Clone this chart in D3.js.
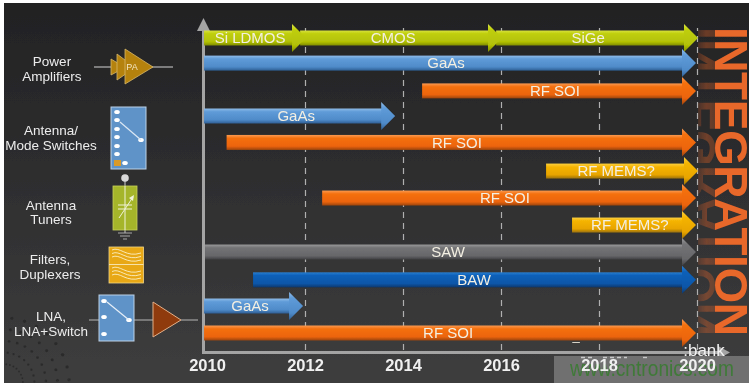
<!DOCTYPE html>
<html><head><meta charset="utf-8">
<script src="https://cdn.jsdelivr.net/npm/d3@7"></script>
<style>html,body{margin:0;padding:0;background:#fff}svg{display:block}text{font-family:"Liberation Sans",Arial,sans-serif}</style>
</head><body><div id="chart"></div>
<script>
// ---- data ----
const tickYears   = [2010, 2012, 2014, 2016, 2018, 2020];
const barLabels   = ["SiGe","CMOS","Si LDMOS","GaAs","RF SOI","GaAs","RF SOI","RF MEMS?","RF SOI","RF MEMS?","SAW","BAW","GaAs","RF SOI"];
const barLanes    = [0,0,0,0.93,1.96,2.89,3.87,4.93,5.93,6.93,7.93,8.96,9.93,10.93];
const barStarts   = [2015.9,2011.9,2009.94,2009.94,2014.39,2009.94,2010.40,2016.92,2012.35,2017.45,2009.96,2010.94,2009.94,2009.94];
const barEnds     = [2020.02,2016.02,2012.02,2019.98,2019.98,2013.84,2019.98,2020.02,2019.98,2019.98,2019.98,2019.98,2011.96,2019.98];
const labelYears  = [2017.78,2013.8,2010.88,2014.88,2017.1,2011.82,2015.1,2018.35,2016.08,2018.63,2014.92,2015.45,2010.88,2014.92];
const barColors   = ["lime","lime","lime","blue","orange","blue","orange","gold","orange","gold","grey","navy","blue","orange"];
const groupLines  = [["Power","Amplifiers"],["Antenna/","Mode Switches"],["Antenna","Tuners"],["Filters,","Duplexers"],["LNA,","LNA+Switch"]];
const sideTitle   = "INTEGRATION";

const W = 754, H = 386;
const x = d3.scaleLinear().domain([2010,2020]).range([207,697]);
const y = d3.scaleLinear().domain([0,10.93]).range([38,333]);
const svg = d3.select("#chart").append("svg").attr("width",W).attr("height",H);
const defs = svg.append("defs");

// gradients
const shades = {
  lime:  ["#d8e23e","#bfce0c","#b3c106","#7f8c02"],
  blue:  ["#8fbce8","#5f9bd8","#4f8bc9","#2f5f94"],
  orange:["#fb9a50","#f4700f","#ec640e","#9a4410"],
  gold:  ["#fbd040","#f5b400","#e8a400","#99700a"],
  grey:  ["#9a9a9c","#737375","#67676a","#404042"],
  navy:  ["#2a7ed0","#0c60b8","#0a56a8","#07386e"]
};
Object.entries(shades).forEach(([k,c])=>{
  const g = defs.append("linearGradient").attr("id","g-"+k).attr("x1",0).attr("x2",0).attr("y1",0).attr("y2",1);
  [0,.22,.75,1].forEach((o,i)=>g.append("stop").attr("offset",o).attr("stop-color",c[i]));
});
const bg = defs.append("linearGradient").attr("id","bg").attr("x1",0).attr("x2",0).attr("y1",0).attr("y2",1);
bg.append("stop").attr("offset",0).attr("stop-color","#222223");
bg.append("stop").attr("offset",.5).attr("stop-color","#2f2f30");
bg.append("stop").attr("offset",1).attr("stop-color","#3e3e3e");
const fade = defs.append("linearGradient").attr("id","fade").attr("x1",0).attr("x2",1).attr("y1",0).attr("y2",0);
fade.append("stop").attr("offset",0).attr("stop-color","#fff").attr("stop-opacity",.18);
fade.append("stop").attr("offset",.5).attr("stop-color","#fff").attr("stop-opacity",.38);
fade.append("stop").attr("offset",1).attr("stop-color","#fff").attr("stop-opacity",.3);
const mask = defs.append("mask").attr("id","reflMask").attr("maskUnits","userSpaceOnUse").attr("x",0).attr("y",0).attr("width",W).attr("height",H);
mask.append("rect").attr("x",698).attr("y",0).attr("width",17).attr("height",H).attr("fill","url(#fade)");
const clip = defs.append("clipPath").attr("id","panel");
clip.append("rect").attr("x",4).attr("y",3).attr("width",745).attr("height",380);
defs.append("filter").attr("id","soft").attr("x",0).attr("y",0).attr("width",1).attr("height",1)
  .append("feGaussianBlur").attr("stdDeviation",0.45);

const frame = svg.append("g").attr("clip-path","url(#panel)");
const root = frame.append("g").attr("filter","url(#soft)");
root.append("rect").attr("x",0).attr("y",0).attr("width",W).attr("height",H).attr("fill","url(#bg)");

// globe watermark bottom-left
const globe = root.append("g").attr("fill","#262626").attr("opacity",.7);
d3.range(5).forEach(r=>{
  d3.range(9).forEach(i=>{
    const a = -1.45 + i*0.2, R = 18 + r*11;
    globe.append("circle").attr("cx",4+R*Math.cos(a)*1.05).attr("cy",383+R*Math.sin(a)*1.05)
      .attr("r",1+r*0.18);
  });
});

// side title + reflection
const titleAttrs = s=>s.text(sideTitle).attr("x",0).attr("y",0)
  .attr("font-size",46).attr("font-weight","bold")
  .attr("textLength",309).attr("lengthAdjust","spacing");
root.append("g").attr("mask","url(#reflMask)")
  .append("text").call(titleAttrs).attr("fill","#e0622a")
  .attr("transform","translate(714.5,27) scale(-1,1) rotate(90)");
root.append("text").call(titleAttrs).attr("fill","#e8672b")
  .attr("transform","translate(715,27) rotate(90)");

// gridlines
const grid = root.append("g").attr("transform","translate(0,350)")
  .call(d3.axisBottom(x).tickValues(tickYears.slice(1)).tickSize(-322).tickFormat(""));
grid.select(".domain").remove();
grid.selectAll("line").attr("stroke","#b0b0b0").attr("stroke-width",1.2).attr("stroke-dasharray","6 5");

// axes lines
root.append("rect").attr("x",202).attr("y",28).attr("width",3).attr("height",326).attr("fill","#a4a4a4");
root.append("path").attr("d","M203.5,18L197,31L210,31Z").attr("fill","#a4a4a4");
root.append("rect").attr("x",202).attr("y",351).attr("width",520).attr("height",3).attr("fill","#a4a4a4");
root.append("path").attr("d","M730,352.5L718,346L718,359Z").attr("fill","#a4a4a4");

// arrows
const halfBar = 7.5, halfHead = 14, headLen = 14;
const barData = barLabels.map((label,i)=>({label,lane:barLanes[i],start:barStarts[i],end:barEnds[i],at:labelYears[i],color:barColors[i]}));
const arrows = root.append("g").selectAll("g").data(barData).join("g");
arrows.append("rect")
  .attr("x",d=>x(d.start)).attr("y",d=>y(d.lane)-halfBar)
  .attr("width",d=>x(d.end)-headLen-x(d.start)+1).attr("height",halfBar*2)
  .attr("fill",d=>`url(#g-${d.color})`);
arrows.append("path")
  .attr("d",d=>{const t=x(d.end),c=y(d.lane);return `M${t},${c}L${t-headLen},${c-halfHead}L${t-headLen},${c+halfHead}Z`;})
  .attr("fill",d=>`url(#g-${d.color})`);
arrows.append("text")
  .attr("x",d=>x(d.at)).attr("y",d=>y(d.lane)+5.2)
  .attr("text-anchor","middle").attr("font-size",15).attr("fill","#f3efe2")
  .text(d=>d.label);

// left group labels
const labelPos = [[52,61],[51,130],[51,204.5],[50,259],[51,316]];
groupLines.forEach((ls,i)=>{
  const t = root.append("text").attr("text-anchor","middle").attr("font-size",13.5).attr("fill","#ececec");
  ls.forEach((l,j)=>t.append("tspan").attr("x",labelPos[i][0]).attr("y",labelPos[i][1]+5+j*14.7).text(l));
});

// icons
const ic = root.append("g");
const wire = (a,b,c,d,col="#9a9a9a",w=1.3)=>ic.append("line").attr("x1",a).attr("y1",b).attr("x2",c).attr("y2",d).attr("stroke",col).attr("stroke-width",w);
const dot = (a,b,rx=2.8,ry=2)=>ic.append("ellipse").attr("cx",a).attr("cy",b).attr("rx",rx).attr("ry",ry).attr("fill","#fff");
// power amplifier
wire(94,67,173,67);
[[111,59,75,125],[117,54,80,135],[125,49,84,153]].forEach(([a,t,b,tip])=>
  ic.append("path").attr("d",`M${a},${t}L${tip},${(t+b)/2+.5}L${a},${b}Z`).attr("fill","#b5820e").attr("stroke","#d8b868").attr("stroke-width",.8));
ic.append("text").attr("x",132).attr("y",70).attr("text-anchor","middle").attr("font-size",9).attr("fill","#f4e6c0").text("PA");
// antenna switch
ic.append("rect").attr("x",111).attr("y",107).attr("width",35).attr("height",62).attr("fill","#5f93c8").attr("stroke","#bcd2e8").attr("stroke-width",1);
[112,120,129,137,146,154].forEach(v=>dot(117,v));
dot(125,163); dot(141,140);
wire(141,140,120,122,"#dbe7f3",1.2);
ic.append("rect").attr("x",114).attr("y",160).attr("width",7).attr("height",6).attr("fill","#d99a2b");
// tuner
wire(125,178,125,233,"#cfcfcf",1);
ic.append("circle").attr("cx",125).attr("cy",178).attr("r",3.8).attr("fill","#d8d8d8");
ic.append("rect").attr("x",113).attr("y",186).attr("width",24).attr("height",44).attr("fill","#a5b52a").attr("stroke","#c8d25c").attr("stroke-width",.8);
wire(125,186,125,230,"#f0f2d8",1);
wire(118,205,132,205,"#f0f2d8",1); wire(118,209,132,209,"#f0f2d8",1);
wire(119,218,133,197,"#f0f2d8",1);
ic.append("path").attr("d","M134,195L129,198L133,201Z").attr("fill","#f0f2d8");
wire(118,233,132,233,"#a8a8a8",1); wire(120,236,130,236,"#a8a8a8",1); wire(123,239,127,239,"#a8a8a8",1);
// filter
ic.append("rect").attr("x",109).attr("y",247).attr("width",34.5).attr("height",36).attr("fill","#e8a812").attr("stroke","#f3d688").attr("stroke-width",.8);
wire(109,264.5,143.5,264.5,"#f6e2a8",1);
[0,18].forEach(o=>[0,3.5,7].forEach(k=>
  ic.append("path").attr("d",`M112,${250+o+k}C120,${246+o+k} 126,${258+o+k} 141,${253+o+k}`).attr("fill","none").attr("stroke","#fbefc8").attr("stroke-width",.9)));
// LNA
wire(89,320,99,320); wire(134,320,153,320); wire(181,320,198,320);
ic.append("rect").attr("x",99).attr("y",295).attr("width",35).attr("height",46).attr("fill","#5f93c8").attr("stroke","#bcd2e8").attr("stroke-width",1);
[301,317,334].forEach(v=>dot(104,v));
dot(129,320);
wire(129,320,107,302,"#e6eef7",1.2);
ic.append("path").attr("d","M153,302L181,320L153,337Z").attr("fill","#8f3a08").attr("stroke","#e3b08a").attr("stroke-width",1);

// watermark block
root.append("rect").attr("x",554).attr("y",356).attr("width",200).attr("height",30).attr("fill","#6f6f6f");
[[581,592],[603,627],[643,648]].forEach(([a,b])=>root.append("line").attr("x1",a).attr("x2",b).attr("y1",357.5).attr("y2",357.5).attr("stroke","#c8c8c8").attr("stroke-width",1.4).attr("stroke-dasharray","4 3"));
root.append("text").attr("x",570).attr("y",376).attr("font-size",22).attr("fill","#3f7a38")
  .attr("textLength",164).attr("lengthAdjust","spacingAndGlyphs").text("www.cntronics.com");
root.append("text").attr("x",704).attr("y",356).attr("text-anchor","middle").attr("font-size",17).attr("fill","#f2f2f2").text(":bank");
root.append("text").attr("x",576).attr("y",340).attr("text-anchor","middle").attr("font-size",13).attr("fill","#f3efe2").text("_");

// year axis
const axis = root.append("g").attr("transform","translate(0,357)")
  .call(d3.axisBottom(x).tickValues(tickYears).tickSize(0).tickPadding(0).tickFormat(d3.format("d")));
axis.select(".domain").remove();
axis.selectAll("text").attr("font-size",16.5).attr("font-weight","bold").attr("fill","#f0f0f0")
  .attr("font-family",'"Liberation Sans",Arial,sans-serif').attr("dy","0.85em");
</script></body></html>
